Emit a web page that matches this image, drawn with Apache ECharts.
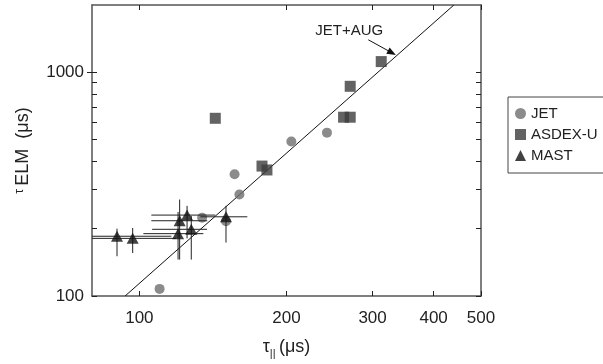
<!DOCTYPE html>
<html><head><meta charset="utf-8">
<script src="https://cdn.jsdelivr.net/npm/echarts@6/dist/echarts.min.js"></script>
<style>html,body{margin:0;padding:0;background:#fff}#c{width:603px;height:364px}</style>
</head><body><div id="c"></div>
<script>
// ---- data ----
const xTickValues = [100, 200, 300, 400, 500];
const yTickValues = [100, 1000];
const yMajorOuterTicks = [1000];
const yMinorTickValues = [100, 200, 300, 400, 500, 600, 700, 800, 900, 1000];
const xRange = [80, 500];
const yRange = [100, 2000];

const jetX = [110, 134.4, 150.4, 156.6, 160.2, 204.6, 242];
const jetY = [107.6, 223.6, 216, 350, 284.5, 491, 537.5];

const asdexX = [143, 178.2, 182.4, 261.7, 270, 270, 312.5];
const asdexY = [623, 381, 366, 630, 630, 866, 1117];

const mastX    = [90,  96.9, 120,   120.9, 125.2, 127.7, 150.4];
const mastY    = [185, 181,  190,   217,   230,   198.7, 226];
const mastXLo  = [60,  60,   101.9, 105.8, 105.8, 106.2, 133.3];
const mastXHi  = [116.3, 119, 135.2, 137.7, 143, 137.5, 166.3];
const mastYLo  = [150.6, 155.6, 145.5, 145.5, 181, 145.5, 173.4];
const mastYHi  = [200, 201.5, 237.5, 270, 253, 228, 253];

const fitX = [93.5, 440];
const fitY = [100, 2000];

const annotText = 'JET+AUG';
const annotTextPos = [268.8, 1525];
const annotArrowFrom = [294, 1398];
const annotArrowTo = [328.6, 1223];

// ---- chart ----
const font = 'Liberation Sans, Arial, sans-serif';
const axisCol = '#555';
const chart = echarts.init(document.getElementById('c'), null, {renderer: 'canvas'});

const zip = (a, b) => a.map((v, i) => [v, b[i]]);

const baseX = {
  type: 'log', logBase: 10, min: xRange[0], max: xRange[1],
  axisLine: {show: true, onZero: false, lineStyle: {color: axisCol, width: 1.5}},
  splitLine: {show: false}, minorTick: {show: false}
};
const baseY = {
  type: 'log', logBase: 10, min: yRange[0], max: yRange[1],
  axisLine: {show: true, onZero: false, lineStyle: {color: axisCol, width: 1.5}},
  splitLine: {show: false}, minorTick: {show: false}
};
const plain = v => String(Math.round(v));

const option = {
  animation: false,
  backgroundColor: '#fff',
  textStyle: {fontFamily: font},
  grid: {left: 92, right: 122, top: 5, bottom: 60, containLabel: false},
  xAxis: [
    Object.assign({}, baseX, {
      position: 'bottom',
      axisTick: {show: true, inside: true, length: 5, lineStyle: {color: '#222'}, customValues: xTickValues},
      axisLabel: {show: true, customValues: xTickValues, formatter: plain, margin: 14, fontSize: 17, color: '#222', fontFamily: font},
      name: '{t|τ}{s|||} {t|(μs)}', nameLocation: 'middle', nameGap: 40,
      nameTextStyle: {rich: {t: {fontSize: 18, color: '#222', fontFamily: font}, s: {fontSize: 11, color: '#222', verticalAlign: 'bottom', padding: [12, 0, 0, 0], fontFamily: font}}}
    }),
    Object.assign({}, baseX, {
      position: 'top',
      axisTick: {show: true, inside: true, length: 5, lineStyle: {color: '#222'}, customValues: xTickValues},
      axisLabel: {show: false}
    })
  ],
  yAxis: [
    Object.assign({}, baseY, {
      position: 'left',
      axisTick: {show: true, inside: true, length: 5, lineStyle: {color: '#222'}, customValues: yMinorTickValues},
      axisLabel: {show: true, customValues: yTickValues, formatter: plain, margin: 8, fontSize: 17, color: '#222', fontFamily: font},
      name: '{a|τ} {b|ELM}   {b|(μs)}', nameLocation: 'middle', nameGap: 60, nameRotate: 90,
      nameTextStyle: {rich: {a: {fontSize: 12, color: '#222', fontFamily: font, verticalAlign: 'top'}, b: {fontSize: 18, color: '#222', fontFamily: font}}}
    }),
    Object.assign({}, baseY, {
      position: 'right',
      axisTick: {show: true, inside: true, length: 5, lineStyle: {color: '#222'}, customValues: yMinorTickValues},
      axisLabel: {show: false}
    }),
    Object.assign({}, baseY, {
      position: 'left', offset: 0,
      axisLine: {show: false},
      axisTick: {show: true, inside: false, length: 5, lineStyle: {color: '#222'}, customValues: yMajorOuterTicks},
      axisLabel: {show: false}
    })
  ],
  legend: {
    orient: 'vertical', left: 508, top: 97,
    padding: [9, 10, 10, 7], itemGap: 6, itemWidth: 11, itemHeight: 11,
    borderColor: '#444', borderWidth: 1,
    textStyle: {fontSize: 15, color: '#222', fontFamily: font},
    data: ['JET', 'ASDEX-U', 'MAST']
  },
  series: [
    {
      name: 'fit', type: 'line', data: zip(fitX, fitY), symbol: 'none',
      lineStyle: {color: '#111', width: 1}, z: 1, silent: true,
      markLine: {
        silent: true, symbol: ['none', 'triangle'], symbolSize: [7, 9],
        lineStyle: {color: '#111', width: 1, type: 'solid'},
        label: {show: false},
        data: [[{coord: annotArrowFrom}, {coord: annotArrowTo}]]
      },
      markPoint: {
        silent: true, symbol: 'circle', symbolSize: 1, itemStyle: {color: 'rgba(0,0,0,0)'},
        label: {show: true, formatter: annotText, fontSize: 15, color: '#222', fontFamily: font, position: 'inside'},
        data: [{coord: annotTextPos}]
      }
    },
    {
      name: 'JET', type: 'scatter', data: zip(jetX, jetY), symbol: 'circle', symbolSize: 10,
      itemStyle: {color: '#6e6e6e'}, z: 2
    },
    {
      name: 'ASDEX-U', type: 'scatter', data: zip(asdexX, asdexY), symbol: 'rect', symbolSize: 11,
      itemStyle: {color: '#3c3c3c'}, z: 3
    },
    {
      name: 'MAST-err', type: 'custom', z: 4, silent: true,
      data: mastX.map((v, i) => [v, mastY[i], mastXLo[i], mastXHi[i], mastYLo[i], mastYHi[i]]),
      renderItem: function (params, api) {
        const cs = params.coordSys;
        const c = api.coord([api.value(0), api.value(1)]);
        const xl = api.coord([api.value(2), api.value(1)]);
        const xh = api.coord([api.value(3), api.value(1)]);
        const yl = api.coord([api.value(0), api.value(4)]);
        const yh = api.coord([api.value(0), api.value(5)]);
        const x1 = Math.max(xl[0], cs.x), x2 = Math.min(xh[0], cs.x + cs.width);
        const st = {stroke: '#222', lineWidth: 1};
        return {type: 'group', children: [
          {type: 'line', shape: {x1: x1, y1: c[1], x2: x2, y2: c[1]}, style: st},
          {type: 'line', shape: {x1: c[0], y1: yl[1], x2: c[0], y2: yh[1]}, style: st}
        ]};
      }
    },
    {
      name: 'MAST', type: 'scatter', data: zip(mastX, mastY), symbol: 'triangle', symbolSize: [12, 11],
      itemStyle: {color: '#111'}, z: 5
    }
  ]
};
chart.setOption(option);
</script></body></html>
